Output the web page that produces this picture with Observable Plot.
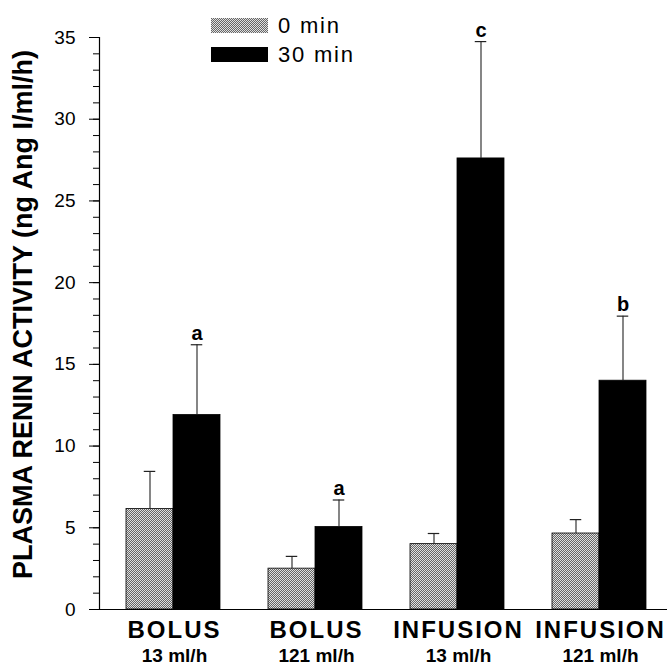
<!DOCTYPE html>
<html>
<head>
<meta charset="utf-8">
<script src="https://cdn.jsdelivr.net/npm/d3@7"></script>
<script src="https://cdn.jsdelivr.net/npm/@observablehq/plot@0.6"></script>
<style>
  body { margin: 0; background: #fff; }
  #wrap { position: relative; width: 668px; height: 667px; }
  #legend { position: absolute; left: 211px; top: 11px; font-family: "Liberation Sans", Arial, Helvetica, sans-serif; font-size: 22px; letter-spacing: 1.8px; color: #000; }
  #legend .row { display: flex; align-items: center; height: 29px; }
  #legend .sw { width: 57px; height: 15px; margin-right: 10px; }
  g[aria-label="fx-axis tick label"] text { letter-spacing: 2px; }
  g[aria-label="rate"] text { letter-spacing: 1.5px; }
  g[aria-label="ylabel"] text { letter-spacing: 1.1px; }
</style>
</head>
<body>
<svg width="0" height="0" style="position:absolute">
  <defs>
    <pattern id="stip" width="2" height="2" patternUnits="userSpaceOnUse">
      <rect width="2" height="2" fill="#e0e0e0"></rect>
      <rect x="0" y="0" width="1" height="1" fill="#666"></rect>
      <rect x="1" y="1" width="1" height="1" fill="#666"></rect>
    </pattern>
  </defs>
</svg>
<div id="wrap">
  <div id="legend"></div>
</div>
<script>
// ---- data ----
const groups   = ["BOLUS", "BOLUS", "INFUSION", "INFUSION"];
const rates    = ["13 ml/h", "121 ml/h", "13 ml/h", "121 ml/h"];
const series   = ["0 min", "30 min"];
const mean0    = [6.15, 2.5, 4.0, 4.65];
const sem0     = [2.3, 0.75, 0.65, 0.85];
const mean30   = [11.9, 5.05, 27.6, 14.0];
const sem30    = [4.3, 1.65, 7.15, 3.95];
const letters30 = ["a", "a", "c", "b"];
const yTicks   = [0, 5, 10, 15, 20, 25, 30, 35];
const yMinorTicks = d3.range(0, 36, 1);
const yLabel   = "PLASMA RENIN ACTIVITY (ng Ang I/ml/h)";
const seriesFill = ["url(#stip)", "#000"];

// ---- build table ----
const keys = groups.map((g, i) => g + " " + rates[i]);
const rows = [];
keys.forEach((key, i) => {
  rows.push({key, series: series[0], mean: mean0[i], sem: sem0[i], letter: ""});
  rows.push({key, series: series[1], mean: mean30[i], sem: sem30[i], letter: letters30[i]});
});
const rateRows = keys.map((key, i) => ({key, rate: rates[i]}));

const font = '"Liberation Sans", Arial, Helvetica, sans-serif';

const chart = Plot.plot({
  width: 668,
  height: 667,
  marginTop: 37,
  marginBottom: 58,
  marginLeft: 98,
  marginRight: 0,
  style: {fontFamily: font, background: "white", color: "black"},
  fx: {domain: keys, padding: 0, label: null},
  x: {domain: series, paddingInner: 0, paddingOuter: 0.5, align: 0.57, axis: null},
  y: {domain: [0, 35], label: null},
  color: {domain: series, range: seriesFill},
  marks: [
    Plot.barY(rows, {fx: "key", x: "series", y: "mean", fill: "series", stroke: "#000", strokeWidth: 0.8}),
    Plot.ruleX(rows, {fx: "key", x: "series", y1: "mean", y2: d => d.mean + d.sem, stroke: "#222", strokeWidth: 1.1}),
    Plot.tickY(rows, {fx: "key", x: "series", y: d => d.mean + d.sem, stroke: "#222", strokeWidth: 1.2, insetLeft: 17.75, insetRight: 17.75}),
    Plot.text(rows.filter(d => d.letter), {fx: "key", x: "series", y: d => d.mean + d.sem, text: "letter", lineAnchor: "bottom", dy: -5, fontSize: 20, fontWeight: "bold"}),
    Plot.ruleY([0], {stroke: "#000", strokeWidth: 1.2}),
    Plot.frame({anchor: "left", facetAnchor: "left", stroke: "#000", strokeWidth: 1.2}),
    Plot.axisY({ticks: yMinorTicks, tickSize: 6, text: null, label: null, facetAnchor: "left"}),
    Plot.axisY({ticks: yTicks, tickSize: 10, tickPadding: 14, fontSize: 19, label: null, facetAnchor: "left"}),
    Plot.axisFx({anchor: "bottom", tickSize: 0, tickPadding: 11, fontSize: 24, fontWeight: "bold", tickFormat: d => d.split(" ")[0], label: null, dx: 4}),
    Plot.text(rateRows, {fx: "key", text: "rate", frameAnchor: "bottom", lineAnchor: "top", dy: 39, dx: 4, fontSize: 19, fontWeight: "bold", ariaLabel: "rate"}),
    Plot.text([yLabel], {text: d => d, frameAnchor: "left", facetAnchor: "left", textAnchor: "middle", lineAnchor: "middle", rotate: -90, dx: -76, dy: -9, fontSize: 27, fontWeight: "bold", ariaLabel: "ylabel"})
  ]
});
document.getElementById("wrap").prepend(chart);

// ---- legend ----
const legend = document.getElementById("legend");
series.forEach((s, i) => {
  const row = document.createElement("div");
  row.className = "row";
  row.innerHTML = `<svg class="sw" width="57" height="${i === 0 ? 15 : 16}"><rect width="57" height="${i === 0 ? 15 : 16}" fill="${seriesFill[i]}"></rect></svg><span>${s}</span>`;
  legend.appendChild(row);
});
</script>
</body>
</html>
